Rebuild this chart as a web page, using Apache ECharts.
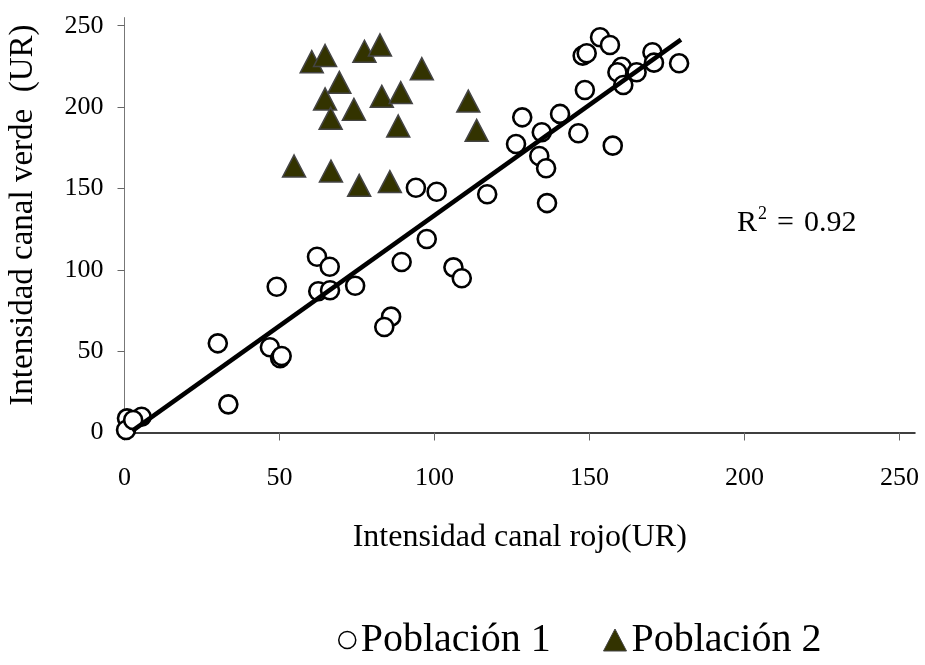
<!DOCTYPE html>
<html>
<head>
<meta charset="utf-8">
<script src="https://cdn.jsdelivr.net/npm/echarts@6/dist/echarts.min.js"></script>
<style>
html,body{margin:0;padding:0;background:#fff;}
#chart{width:925px;height:665px;}
</style>
</head>
<body>
<div id="chart"></div>
<script>
// Población 1 (circles)
const pop1X = [153.4,156.6,147.8,149.1,170.3,170.8,178.9,160.4,159.0,165.2,160.9,148.5,128.3,140.5,134.6,146.4,126.3,157.5,133.8,136.0,117.0,136.3,94.0,100.7,97.5,89.4,106.1,108.8,62.1,66.2,62.5,66.3,74.4,86.0,83.8,49.1,30.1,46.9,50.2,50.7,33.5,0.8,5.5,0.5,2.8];
const pop1Y = [242.9,238.2,231.6,233.1,233.7,227.3,226.9,224.8,221.4,221.4,213.6,210.5,193.7,195.8,184.5,183.9,177.3,176.3,169.9,162.4,146.4,141.0,150.4,148.0,118.9,104.8,101.5,94.8,108.0,101.9,86.8,87.4,90.2,71.2,64.8,89.6,54.8,52.4,45.6,47.0,17.3,8.7,9.7,1.5,7.7];
// Población 2 (triangles)
const pop2X = [60.4,64.7,77.4,82.4,95.9,69.3,64.7,83.0,89.1,110.9,74.0,66.5,88.3,113.6,54.7,66.6,75.7,85.6];
const pop2Y = [227.9,231.7,234.3,238.2,223.6,215.2,205.0,206.6,208.9,203.7,198.6,193.1,188.4,185.7,163.8,160.7,151.9,154.2];
// Trend line endpoints
const fitX = [2.5, 179.5];
const fitY = [1.0, 241.5];
// Axis ticks
const tickValues = [0, 50, 100, 150, 200, 250];
const seriesNames = ['Población 1', 'Población 2'];
const r2Text = '0.92';

const zip = (xs, ys) => xs.map((x, i) => [x, ys[i]]);
const FONT = '"Liberation Serif", "DejaVu Serif", serif';

const chart = echarts.init(document.getElementById('chart'), null, {renderer: 'canvas'});
chart.setOption({
  backgroundColor: '#ffffff',
  animation: false,
  textStyle: {fontFamily: FONT, color: '#000'},
  grid: {left: 124.5, right: 10, top: 17.6, bottom: 232.5, containLabel: false, outerBoundsMode: 'none'},
  xAxis: {
    type: 'value', min: 0, max: 255, interval: 50,
    splitLine: {show: false},
    axisLine: {show: true, onZero: false, lineStyle: {color: '#000', width: 1.5}},
    axisTick: {show: true, length: 8, customValues: tickValues, lineStyle: {color: '#666', width: 1}},
    axisLabel: {customValues: tickValues, margin: 33, fontFamily: FONT, fontSize: 26, color: '#000'},
    name: 'Intensidad canal rojo(UR)', nameLocation: 'middle', nameGap: 89,
    nameTextStyle: {fontFamily: FONT, fontSize: 32, color: '#000'}
  },
  yAxis: {
    type: 'value', min: 0, max: 255, interval: 50,
    splitLine: {show: false},
    axisLine: {show: true, onZero: false, lineStyle: {color: '#777', width: 1}},
    axisTick: {show: true, length: 7, customValues: tickValues, lineStyle: {color: '#666', width: 1}},
    axisLabel: {customValues: tickValues, margin: 21, fontFamily: FONT, fontSize: 26, color: '#000'},
    name: 'Intensidad canal verde  (UR)', nameLocation: 'middle', nameGap: 85, nameRotate: 90,
    nameTextStyle: {fontFamily: FONT, fontSize: 33, color: '#000', padding: [0, 0, 0, 20]}
  },
  legend: [
    {
      data: [{name: seriesNames[0], icon: 'circle'}],
      left: 333, top: 615, itemWidth: 17, itemHeight: 17, itemGap: 5,
      itemStyle: {borderWidth: 1.5, borderColor: '#000', color: '#fff'},
      textStyle: {fontFamily: FONT, fontSize: 40, color: '#000'}
    },
    {
      data: [{name: seriesNames[1], icon: 'triangle'}],
      left: 598, top: 615, itemWidth: 23, itemHeight: 22, itemGap: 4,
      itemStyle: {borderWidth: 1, borderColor: '#444', color: '#333300'},
      textStyle: {fontFamily: FONT, fontSize: 40, color: '#000'}
    }
  ],
  graphic: [{
    type: 'text', left: 737, top: 205,
    style: {
      text: '{r|R}{s|2}{e|=}{r|' + r2Text + '}',
      rich: {
        r: {fontFamily: FONT, fontSize: 30, fill: '#000', verticalAlign: 'bottom'},
        e: {fontFamily: FONT, fontSize: 30, fill: '#000', verticalAlign: 'bottom', padding: [0, 10, 0, 10]},
        s: {fontFamily: FONT, fontSize: 18, fill: '#000', verticalAlign: 'top', padding: [0, 0, 15, 1]}
      }
    }
  }],
  series: [
    {
      name: seriesNames[0], type: 'scatter', symbol: 'circle', symbolSize: 18,
      data: zip(pop1X, pop1Y),
      itemStyle: {color: '#ffffff', borderColor: '#000', borderWidth: 2.6, opacity: 1},
      z: 2
    },
    {
      name: seriesNames[1], type: 'scatter', symbol: 'triangle', symbolSize: [23, 22],
      data: zip(pop2X, pop2Y),
      itemStyle: {color: '#333300', borderColor: '#444', borderWidth: 1.5, opacity: 1},
      z: 2
    },
    {
      name: 'fit', type: 'line', data: zip(fitX, fitY), symbol: 'none',
      lineStyle: {color: '#000', width: 4.5}, z: 3, silent: true
    }
  ]
});
</script>
</body>
</html>
